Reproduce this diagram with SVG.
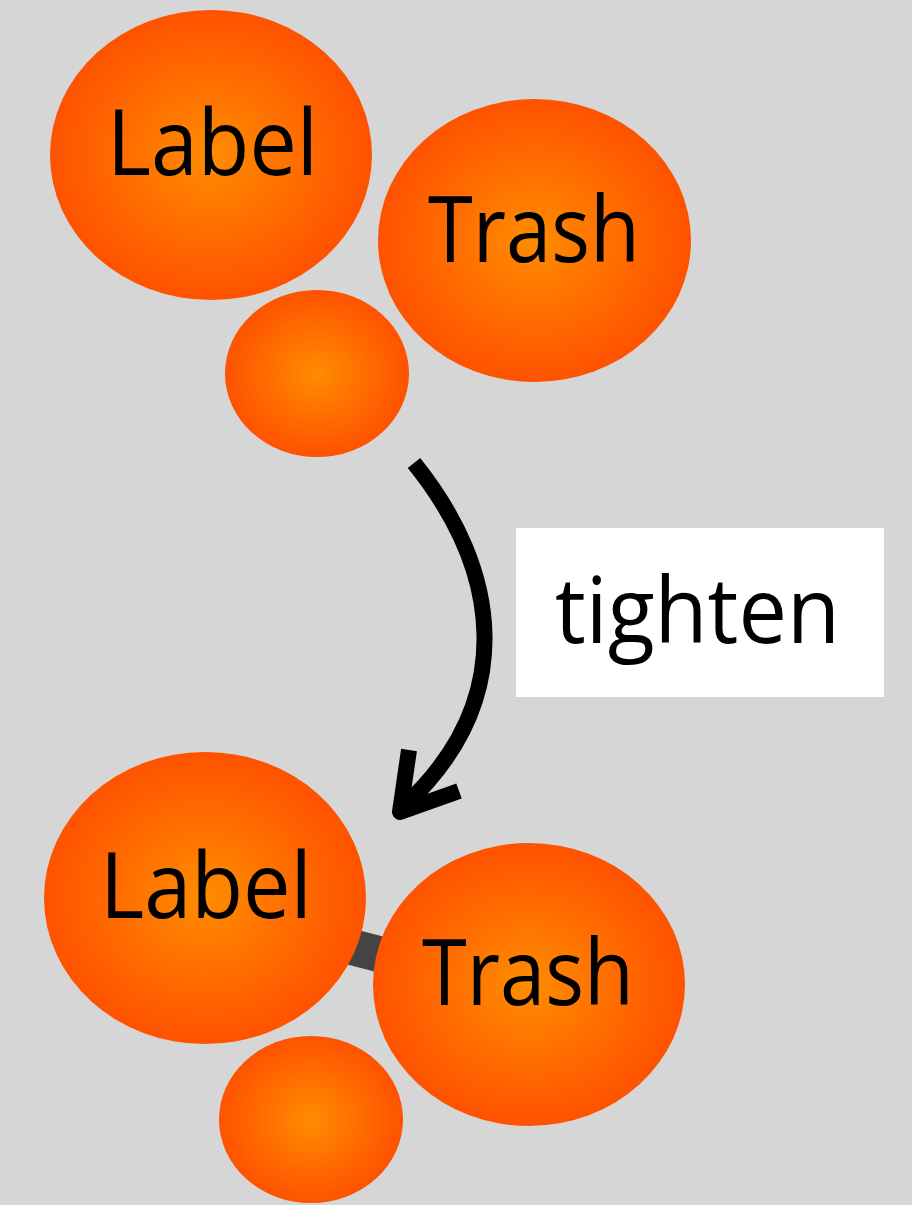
<svg xmlns="http://www.w3.org/2000/svg" width="912" height="1205" viewBox="0 0 912 1205">
<defs>
<radialGradient id="og" cx="0.5" cy="0.5" r="0.5">
<stop offset="0" stop-color="#ff8c00"/>
<stop offset="1" stop-color="#ff5200"/>
</radialGradient>
</defs>
<style>
.node{fill:url(#og);}
.lbl{font-family:"Open Sans","DejaVu Sans",sans-serif;font-size:92px;fill:#000;text-anchor:start;}
.conn{stroke:#444;stroke-width:36;fill:none;}
.arrow{stroke:#000;stroke-width:16;fill:none;stroke-linejoin:round;}
</style>
<rect width="912" height="1205" fill="#d6d6d6"/>
<g id="connectors">
<line class="conn" x1="205" y1="909" x2="529" y2="993"/>
<path class="arrow" d="M414,463 C500,570 520,700 402,808"/>
<polyline class="arrow" points="409,750 400,812 459,791"/>
</g>
<g id="label-top">
<ellipse class="node" cx="211" cy="155" rx="161" ry="145"/>
<text class="lbl" x="107" y="175" textLength="211" lengthAdjust="spacingAndGlyphs">Label</text>
</g>
<g id="trash-top">
<ellipse class="node" cx="534.5" cy="240.5" rx="156.5" ry="141.5"/>
<text class="lbl" x="428" y="262" textLength="212" lengthAdjust="spacingAndGlyphs">Trash</text>
</g>
<g id="small-top">
<ellipse class="node" cx="317" cy="373.5" rx="92" ry="83.5"/>
</g>
<g id="tighten">
<rect x="516" y="528" width="368" height="169" fill="#fff"/>
<text class="lbl" x="555" y="643" textLength="285" lengthAdjust="spacingAndGlyphs">tighten</text>
</g>
<g id="label-bottom">
<ellipse class="node" cx="205" cy="898" rx="161" ry="146"/>
<text class="lbl" x="100" y="918" textLength="212" lengthAdjust="spacingAndGlyphs">Label</text>
</g>
<g id="trash-bottom">
<ellipse class="node" cx="529" cy="984.5" rx="156" ry="141.5"/>
<text class="lbl" x="422" y="1005" textLength="212" lengthAdjust="spacingAndGlyphs">Trash</text>
</g>
<g id="small-bottom">
<ellipse class="node" cx="311" cy="1119.5" rx="92" ry="83.5"/>
</g>
</svg>
